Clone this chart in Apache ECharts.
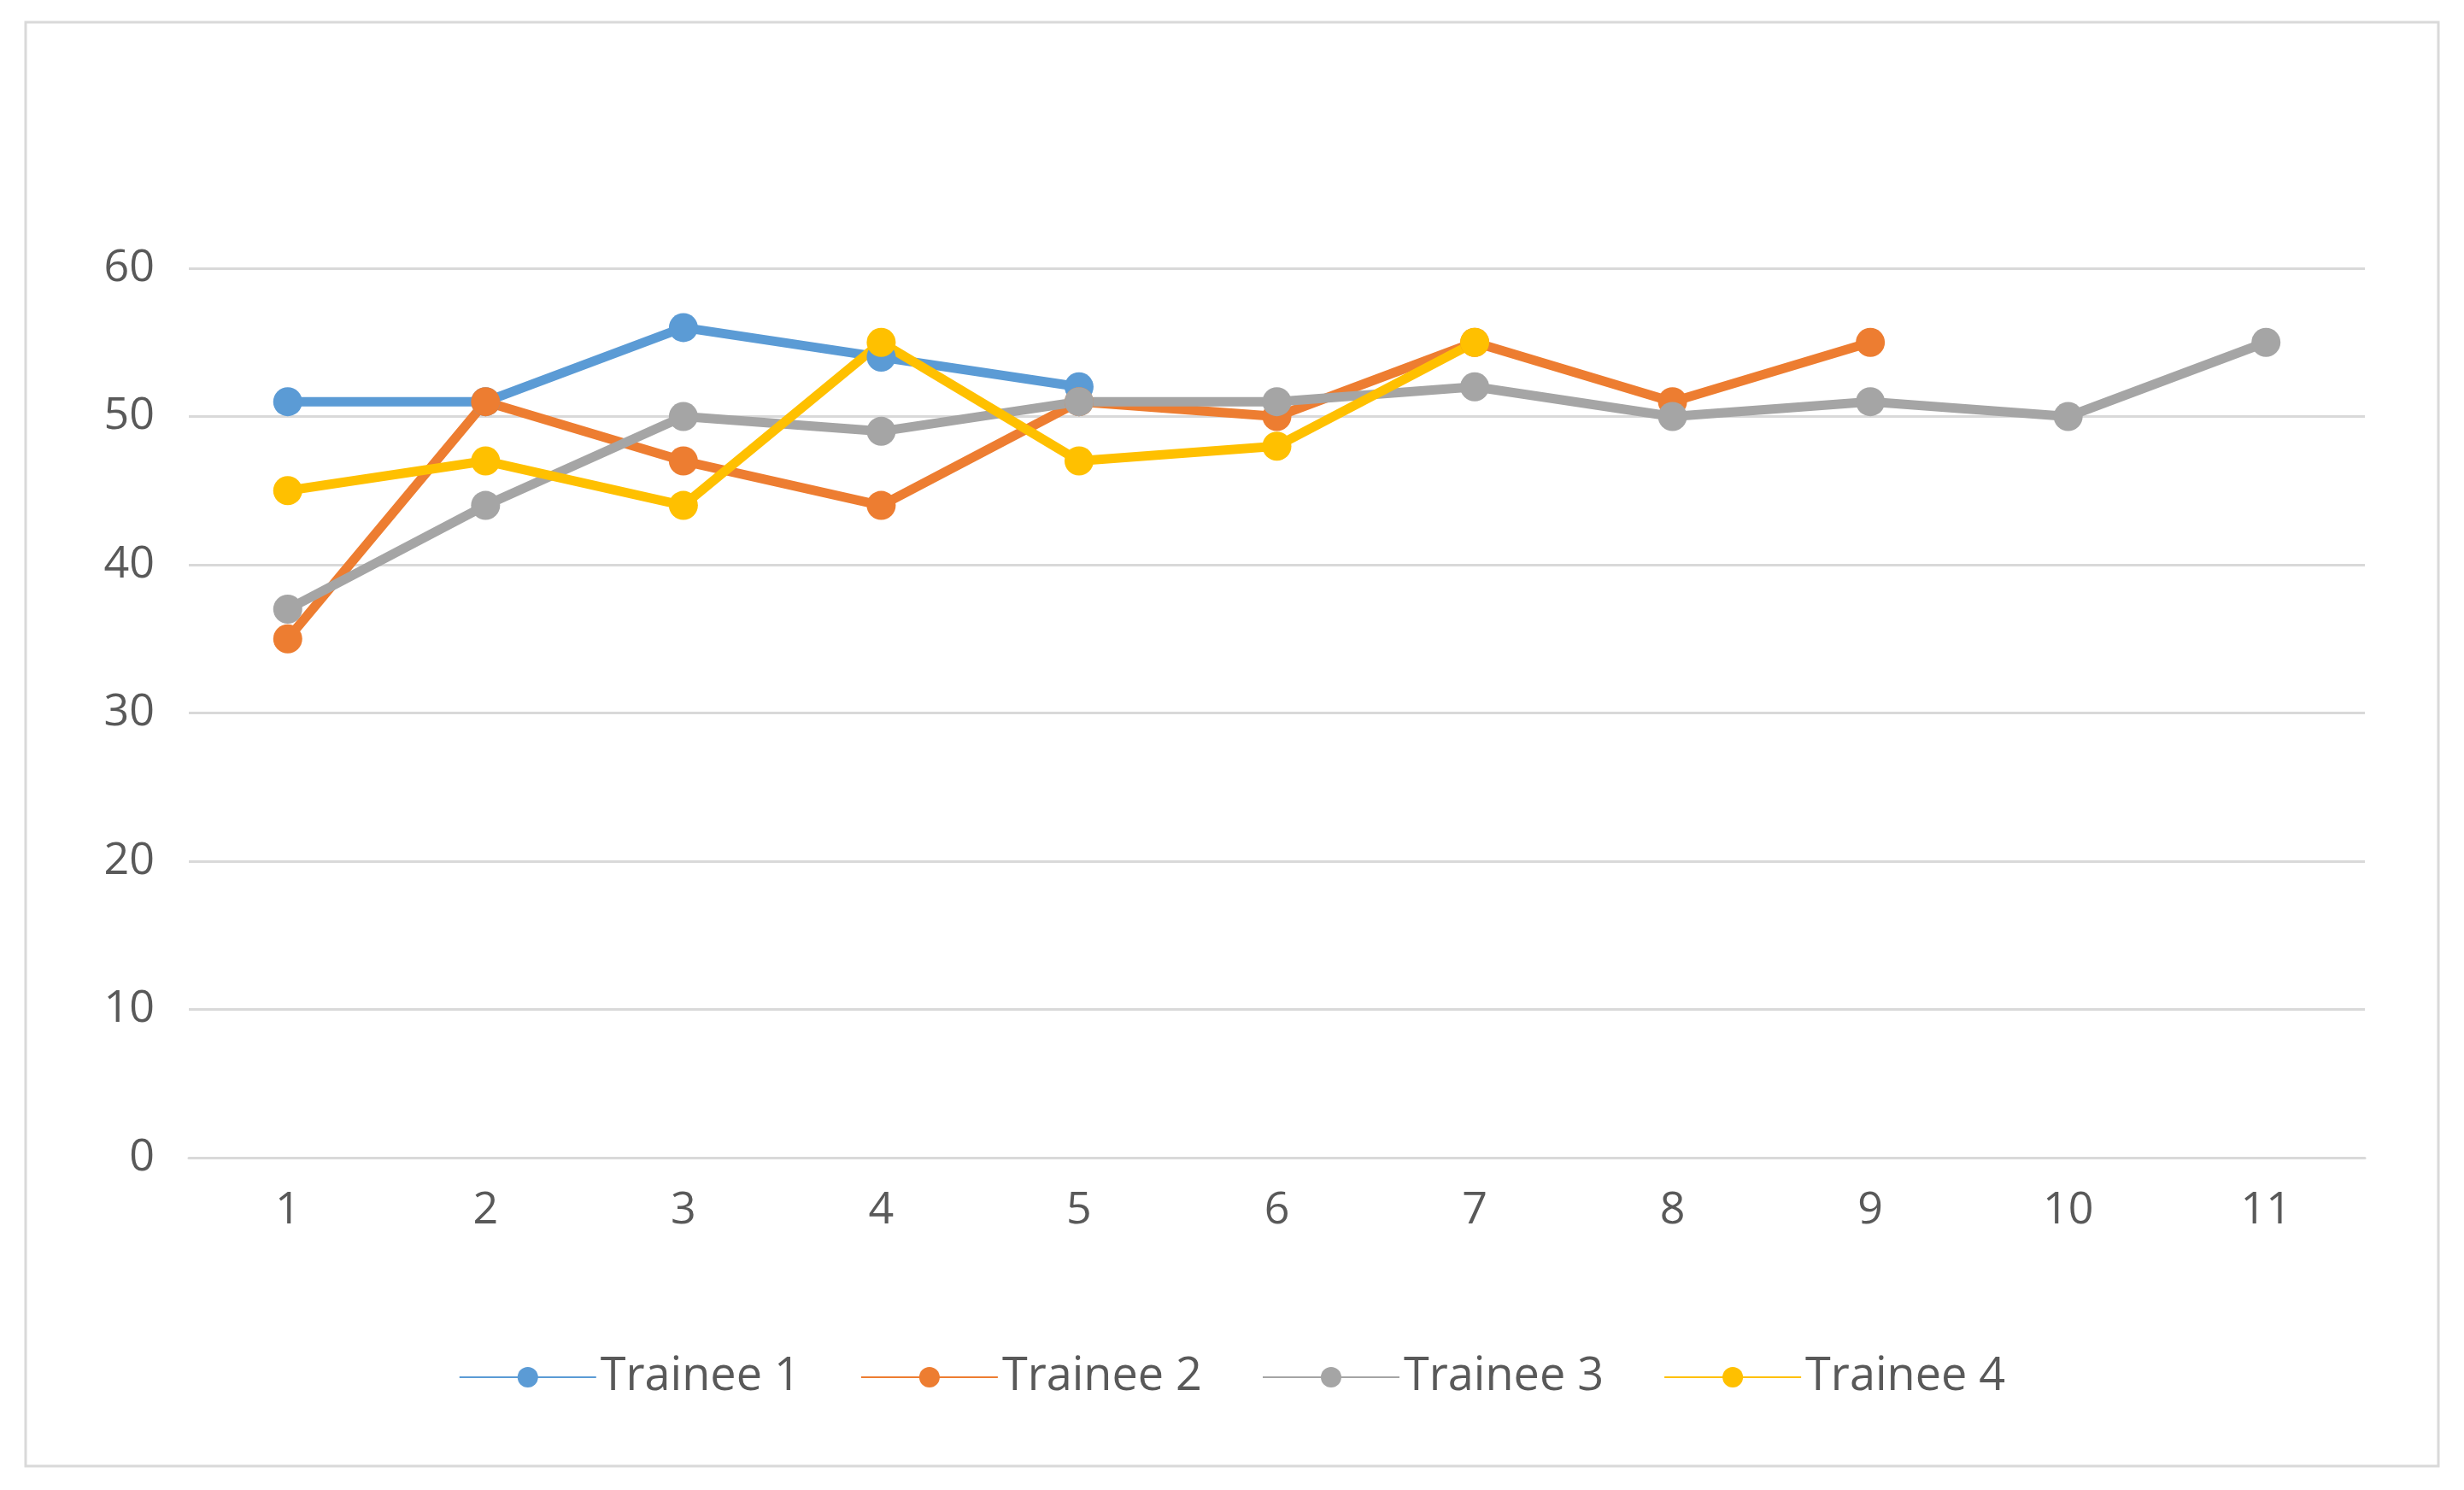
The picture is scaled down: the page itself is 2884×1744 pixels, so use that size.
<!DOCTYPE html>
<html><head><meta charset="utf-8">
<script src="https://cdn.jsdelivr.net/npm/echarts@6/dist/echarts.min.js"></script>
<style>html,body{margin:0;padding:0;background:#fff}#c{width:2884px;height:1744px}</style>
</head><body><div id="c"></div>
<script>
const categories = ['1','2','3','4','5','6','7','8','9','10','11'];
const trainee1 = [51,51,56,54,52];
const trainee2 = [35,51,47,44,51,50,55,51,55];
const trainee3 = [37,44,50,49,51,51,52,50,51,50,55];
const trainee4 = [45,47,44,55,47,48,55];
const names = ['Trainee 1','Trainee 2','Trainee 3','Trainee 4'];
const colors = ['#5B9BD5','#ED7D31','#A5A5A5','#FFC000'];
const data = [trainee1,trainee2,trainee3,trainee4];
const chart = echarts.init(document.getElementById('c'));
chart.setOption({
  animation:false,
  graphic:[{type:'rect',shape:{x:30,y:26,width:2824,height:1690},style:{fill:'none',stroke:'#d9d9d9',lineWidth:3}}],
  grid:{left:221,right:116,top:314,bottom:389},
  legend:{bottom:100,itemWidth:160,itemHeight:30,itemGap:70,
    textStyle:{fontSize:54,color:'#595959',fontFamily:'Open Sans'},data:names},
  xAxis:{type:'category',data:categories,boundaryGap:true,
    axisLine:{lineStyle:{color:'#d9d9d9',width:3}},axisTick:{show:false},
    axisLabel:{fontSize:52,color:'#595959',margin:36,fontFamily:'Open Sans'}},
  yAxis:{type:'value',min:0,max:60,interval:10,axisLine:{show:false},axisTick:{show:false},
    splitLine:{lineStyle:{color:'#d9d9d9',width:3}},
    axisLabel:{fontSize:52,color:'#595959',margin:40,fontFamily:'Open Sans'}},
  series:data.map((d,i)=>({name:names[i],type:'line',data:d,color:colors[i],
    symbol:'circle',symbolSize:34,lineStyle:{width:11,color:colors[i]},itemStyle:{color:colors[i]}}))
});
</script></body></html>
